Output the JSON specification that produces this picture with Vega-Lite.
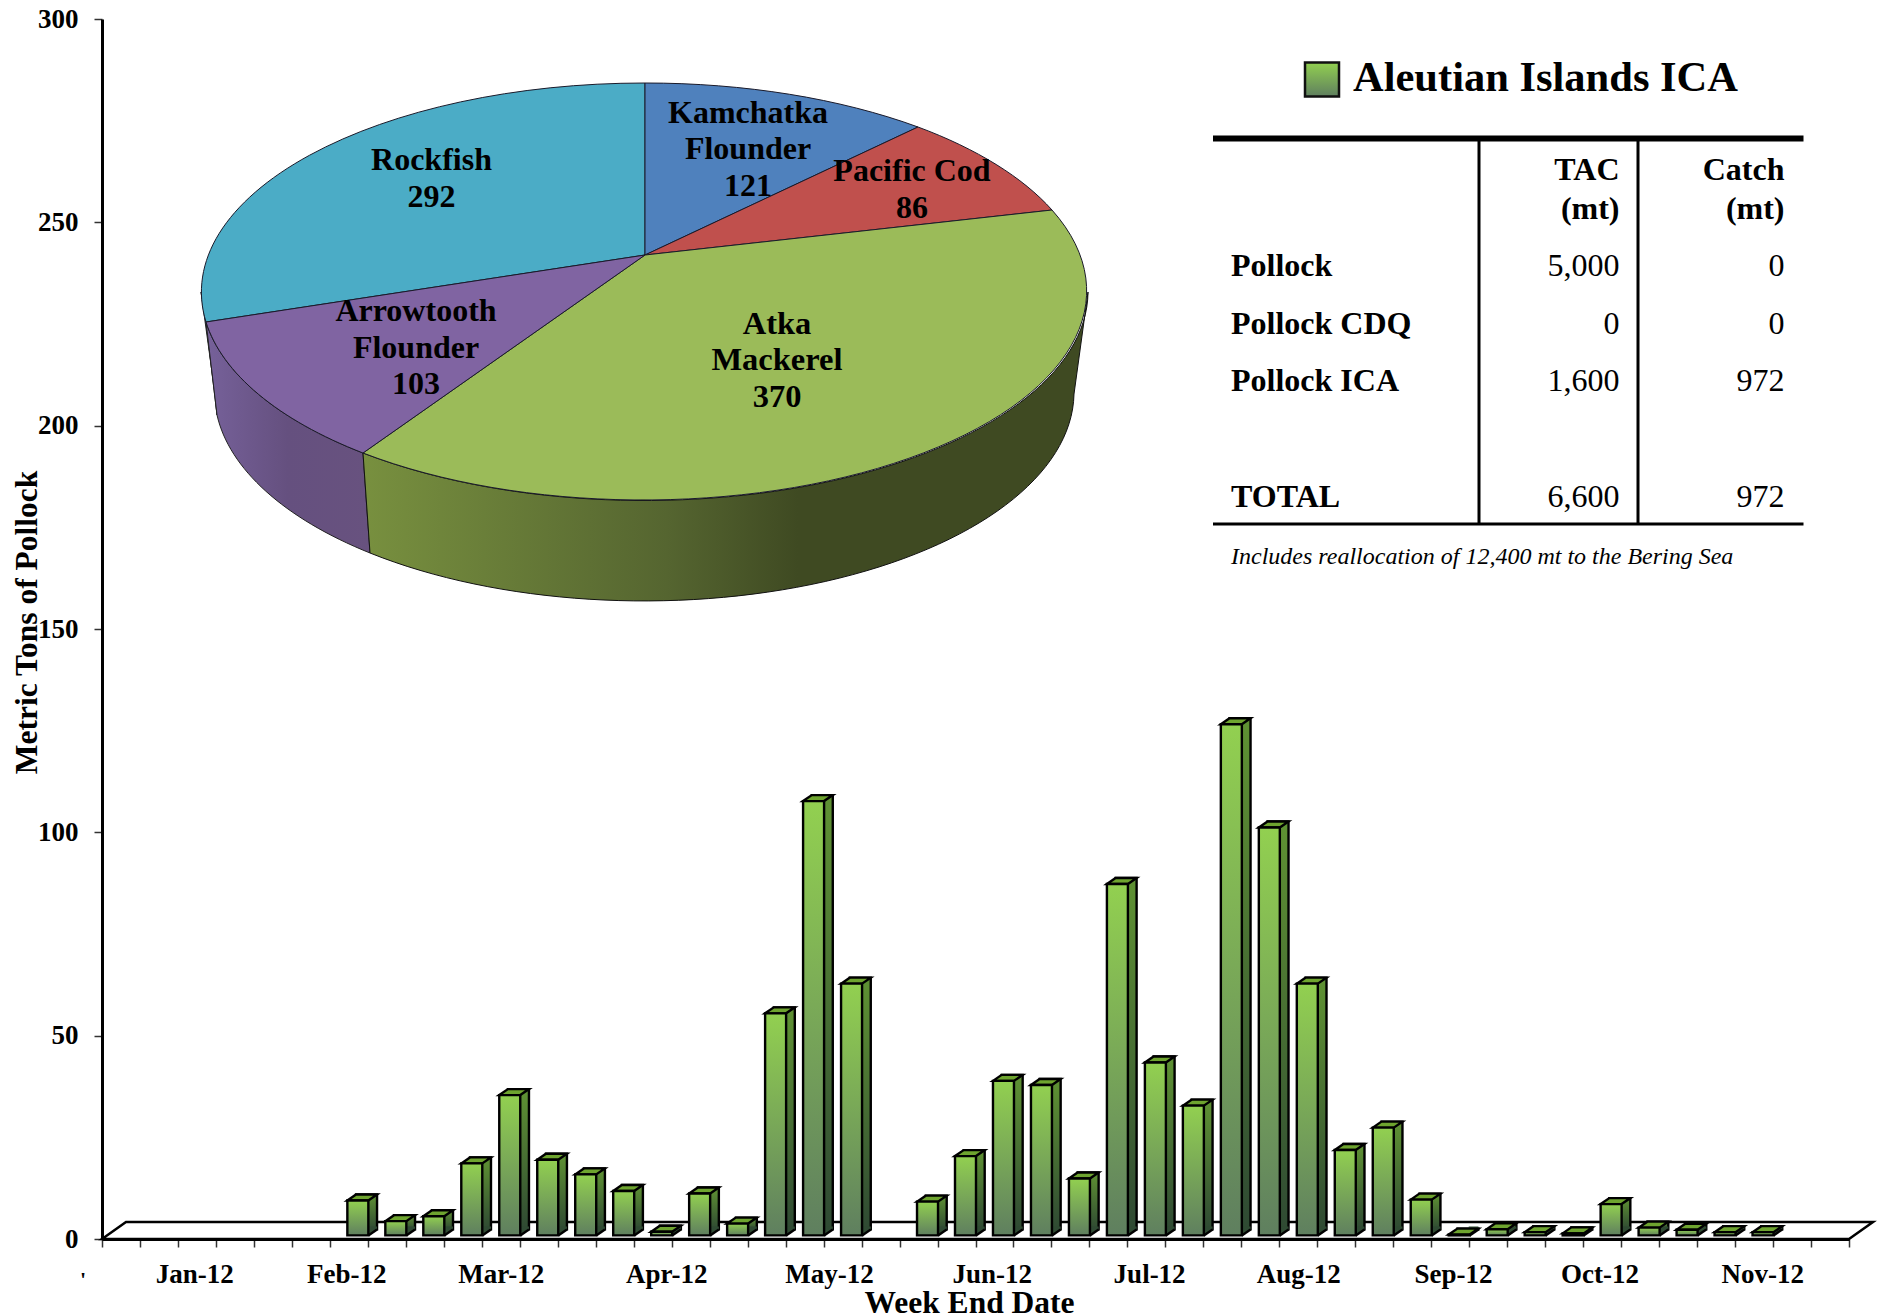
{
"$schema":"https://vega.github.io/schema/vega-lite/v6.json",
"width":1747,"height":1220,
"autosize":{"type":"none"},
"padding":{"left":102,"top":19,"right":30,"bottom":77},
"background":"white",
"config":{"view":{"stroke":null},"font":"Liberation Serif"},
"datasets":{
"pie":[
{"species":"Rockfish","tons":292,"label":"Rockfish|292"},
{"species":"Kamchatka Flounder","tons":121,"label":"Kamchatka|Flounder|121"},
{"species":"Pacific Cod","tons":86,"label":"Pacific Cod|86"},
{"species":"Atka Mackerel","tons":370,"label":"Atka|Mackerel|370"},
{"species":"Arrowtooth Flounder","tons":103,"label":"Arrowtooth|Flounder|103"}
],
"weeks":[
{"week":"2012-02-18","tons":8.6},{"week":"2012-02-25","tons":3.5},{"week":"2012-03-03","tons":4.7},{"week":"2012-03-10","tons":17.7},
{"week":"2012-03-17","tons":34.5},{"week":"2012-03-24","tons":18.6},{"week":"2012-03-31","tons":15},{"week":"2012-04-07","tons":10.9},
{"week":"2012-04-14","tons":0.9},{"week":"2012-04-21","tons":10.3},{"week":"2012-04-28","tons":2.9},{"week":"2012-05-05","tons":54.6},
{"week":"2012-05-12","tons":106.8},{"week":"2012-05-19","tons":61.9},{"week":"2012-06-02","tons":8.3},{"week":"2012-06-09","tons":19.5},
{"week":"2012-06-16","tons":38},{"week":"2012-06-23","tons":37},{"week":"2012-06-30","tons":14},{"week":"2012-07-07","tons":86.4},
{"week":"2012-07-14","tons":42.5},{"week":"2012-07-21","tons":31.9},{"week":"2012-07-28","tons":125.7},{"week":"2012-08-04","tons":100.3},
{"week":"2012-08-11","tons":61.9},{"week":"2012-08-18","tons":21},{"week":"2012-08-25","tons":26.5},{"week":"2012-09-01","tons":8.8},
{"week":"2012-09-08","tons":0.2},{"week":"2012-09-15","tons":1.5},{"week":"2012-09-22","tons":0.8},{"week":"2012-09-29","tons":0.5},
{"week":"2012-10-06","tons":7.7},{"week":"2012-10-13","tons":1.9},{"week":"2012-10-20","tons":1.4},{"week":"2012-10-27","tons":0.8},
{"week":"2012-11-03","tons":0.8}
],
"table":[
{"item":"header","tac":"TAC|(mt)","catch":"Catch|(mt)"},
{"item":"Pollock","tac":"5,000","catch":"0"},
{"item":"Pollock CDQ","tac":"0","catch":"0"},
{"item":"Pollock ICA","tac":"1,600","catch":"972"},
{"item":"TOTAL","tac":"6,600","catch":"972"}
]
},
"resolve":{"scale":{"x":"independent","y":"independent"}},
"layer":[
{
"data":{"name":"pie"},
"layer":[
{"transform":[{"filter":"datum.species==='Rockfish'"}],
 "mark":{"type":"point","filled":true,"opacity":1,"size":4,"shape":"M-444,37 L-439,67 L-428,160 L-430,139 Z","fill":"#2f7f93","stroke":"#222","strokeWidth":1},
 "encoding":{"x":{"datum":645,"axis":null,"scale":{"domain":[102,1849],"nice":false,"zero":false}},"y":{"datum":255,"axis":null,"scale":{"domain":[1239,19],"nice":false,"zero":false}}}},
{"transform":[{"filter":"datum.species==='Arrowtooth Flounder'"}],
 "mark":{"type":"point","filled":true,"opacity":1,"size":4,"shape":"M-439,67 A443.5,209 0 0 0 -282,198 L-275,298 A430,209 0 0 1 -428,160 Z","stroke":"#222","strokeWidth":1,
 "fill":{"gradient":"linear","x1":0,"y1":0,"x2":1,"y2":0,"stops":[{"offset":0,"color":"#76619a"},{"offset":0.5,"color":"#65507f"},{"offset":1,"color":"#68527f"}]}},
 "encoding":{"x":{"datum":645,"axis":null},"y":{"datum":255,"axis":null}}},
{"transform":[{"filter":"datum.species==='Atka Mackerel'"}],
 "mark":{"type":"point","filled":true,"opacity":1,"size":4,"shape":"M-282,198 A443.5,209 0 0 0 443,37 L429,139 A430,209 0 0 1 -275,298 Z","stroke":"#111","strokeWidth":1,
 "fill":{"gradient":"linear","x1":0,"y1":0,"x2":1,"y2":0,"stops":[{"offset":0,"color":"#78903f"},{"offset":0.42,"color":"#556530"},{"offset":0.6,"color":"#3f4a22"},{"offset":1,"color":"#3f4a22"}]}},
 "encoding":{"x":{"datum":645,"axis":null},"y":{"datum":255,"axis":null}}},
{"mark":{"type":"point","filled":true,"opacity":1,"size":4,"stroke":"#1a1a2a","strokeWidth":1},
 "encoding":{"x":{"datum":645,"axis":null},"y":{"datum":255,"axis":null},
 "shape":{"field":"species","type":"nominal","legend":null,"scale":{"domain":["Rockfish","Kamchatka Flounder","Pacific Cod","Atka Mackerel","Arrowtooth Flounder"],"range":["M0,0 L-439,67 A443.5,209 0 0 1 0,-172 Z","M0,0 L0,-172 A443.5,209 0 0 1 273,-128 Z","M0,0 L273,-128 A443.5,209 0 0 1 407,-45 Z","M0,0 L407,-45 A443.5,209 0 0 1 -282,198 Z","M0,0 L-282,198 A443.5,209 0 0 1 -439,67 Z"]}},
 "color":{"field":"species","type":"nominal","legend":null,"scale":{"domain":["Rockfish","Kamchatka Flounder","Pacific Cod","Atka Mackerel","Arrowtooth Flounder"],"range":["#4BACC6","#4F81BD","#C0504D","#9BBB59","#8064A2"]}}}},
{"transform":[{"filter":"datum.species==='Rockfish'"}],"mark":{"type":"text","fontWeight":"bold","fontSize":32,"lineBreak":"|","lineHeight":36.7,"baseline":"middle","color":"black"},
 "encoding":{"x":{"datum":431.5,"axis":null},"y":{"datum":160.4,"axis":null},"text":{"field":"label"}}},
{"transform":[{"filter":"datum.species==='Kamchatka Flounder'"}],"mark":{"type":"text","fontWeight":"bold","fontSize":32,"lineBreak":"|","lineHeight":36.7,"baseline":"middle","color":"black"},
 "encoding":{"x":{"datum":748,"axis":null},"y":{"datum":112.6,"axis":null},"text":{"field":"label"}}},
{"transform":[{"filter":"datum.species==='Pacific Cod'"}],"mark":{"type":"text","fontWeight":"bold","fontSize":32,"lineBreak":"|","lineHeight":36.7,"baseline":"middle","color":"black"},
 "encoding":{"x":{"datum":912,"axis":null},"y":{"datum":171.3,"axis":null},"text":{"field":"label"}}},
{"transform":[{"filter":"datum.species==='Atka Mackerel'"}],"mark":{"type":"text","fontWeight":"bold","fontSize":32.5,"lineBreak":"|","lineHeight":36.7,"baseline":"middle","color":"black"},
 "encoding":{"x":{"datum":777,"axis":null},"y":{"datum":323.5,"axis":null},"text":{"field":"label"}}},
{"transform":[{"filter":"datum.species==='Arrowtooth Flounder'"}],"mark":{"type":"text","fontWeight":"bold","fontSize":32,"lineBreak":"|","lineHeight":36.7,"baseline":"middle","color":"black"},
 "encoding":{"x":{"datum":416,"axis":null},"y":{"datum":311,"axis":null},"text":{"field":"label"}}}
]
},
{
"data":{"values":[{"element":"floor"}]},
"mark":{"type":"point","filled":true,"opacity":1,"size":4,"shape":"M0,0 L24,-17 L1771,-17 L1747,0 Z","fill":"white","stroke":"black","strokeWidth":2.5},
"encoding":{"x":{"datum":102,"axis":null,"scale":{"domain":[102,1849],"nice":false,"zero":false}},"y":{"datum":1239,"axis":null,"scale":{"domain":[1239,19],"nice":false,"zero":false}}}
},
{
"data":{"name":"weeks"},
"resolve":{"axis":{"x":"independent","y":"independent"}},
"layer":[
{"mark":{"type":"bar","size":21,"xOffset":-1.3,"yOffset":-9.6,"y2Offset":-9.6,"stroke":"black","strokeWidth":2.4,
 "fill":{"gradient":"linear","x1":0,"y1":0,"x2":0,"y2":1,"stops":[{"offset":0,"color":"#5f9233"},{"offset":1,"color":"#2f4a33"}]}},
 "encoding":{
 "x":{"field":"week","type":"temporal","scale":{"type":"utc","domain":["2011-12-31","2012-11-17"],"nice":false,"padding":0},
  "axis":{"orient":"bottom","title":null,"labels":false,"domain":true,"domainColor":"black","domainWidth":3,"tickSize":8,"tickColor":"#333","tickWidth":1.5,"grid":false,
  "values":["2011-12-31","2012-01-07","2012-01-14","2012-01-21","2012-01-28","2012-02-04","2012-02-11","2012-02-18","2012-02-25","2012-03-03","2012-03-10","2012-03-17","2012-03-24","2012-03-31","2012-04-07","2012-04-14","2012-04-21","2012-04-28","2012-05-05","2012-05-12","2012-05-19","2012-05-26","2012-06-02","2012-06-09","2012-06-16","2012-06-23","2012-06-30","2012-07-07","2012-07-14","2012-07-21","2012-07-28","2012-08-04","2012-08-11","2012-08-18","2012-08-25","2012-09-01","2012-09-08","2012-09-15","2012-09-22","2012-09-29","2012-10-06","2012-10-13","2012-10-20","2012-10-27","2012-11-03","2012-11-10","2012-11-17"]}},
 "y":{"field":"tons","type":"quantitative","stack":null,"scale":{"domain":[0,300],"nice":false,"zero":true},
  "axis":{"orient":"left","title":"Metric Tons of Pollock","titleFontSize":31.5,"titleFontWeight":"bold","titleColor":"black","titleX":-59,"titleY":603,"values":[0,50,100,150,200,250,300],"grid":false,"domainColor":"black","domainWidth":3,"tickColor":"#333","tickSize":8,"tickWidth":1.5,"labelFontSize":27,"labelFontWeight":"bold","labelColor":"black","labelPadding":16}},
 "y2":{"datum":0}}},
{"mark":{"type":"point","filled":true,"opacity":1,"size":4,"yOffset":-3.6,"shape":"M-0.5,0 L9.2,-6 L9.2,-9 L-0.5,-9 Z","fill":"#2f4a33"},
 "encoding":{"x":{"field":"week","type":"temporal","axis":{"orient":"bottom","title":"Week End Date","titleFontSize":31.5,"titleFontWeight":"bold","titleColor":"black","titleX":867,"titleY":48,"domain":false,"ticks":false,"grid":false,"labelFontSize":27,"labelFontWeight":"bold","labelColor":"black","labelPadding":22,"labelOverlap":false,"labelBound":false,"labelFlush":false,"format":"%b-%y",
  "values":["2012-01-17","2012-02-14","2012-03-13T12:00:00Z","2012-04-13","2012-05-13","2012-06-12","2012-07-11","2012-08-07T12:00:00Z","2012-09-05","2012-10-02","2012-11-01"]}},
 "y":{"datum":0,"axis":null}}},
{"mark":{"type":"point","filled":false,"opacity":1,"size":4,"yOffset":-3.6,"shape":"M0.5,0 L9.2,-6","stroke":"black","strokeWidth":2.4,"fill":null},
 "encoding":{"x":{"field":"week","type":"temporal","axis":null},"y":{"datum":0,"axis":null}}},
{"mark":{"type":"point","filled":true,"opacity":1,"size":4,"yOffset":-3.6,"xOffset":0,"shape":"M-20.5,0 L-11.8,-6 L9.2,-6 L0.5,0 Z","fill":"#6ea42f","stroke":"black","strokeWidth":2.4},
 "encoding":{"x":{"field":"week","type":"temporal","axis":null},"y":{"field":"tons","type":"quantitative","axis":null}}},
{"mark":{"type":"bar","size":21,"xOffset":-10,"yOffset":-3.6,"y2Offset":-3.6,"stroke":"black","strokeWidth":2.4,
 "fill":{"gradient":"linear","x1":0,"y1":0,"x2":0,"y2":1,"stops":[{"offset":0,"color":"#92d050"},{"offset":1,"color":"#5f7f5f"}]}},
 "encoding":{"x":{"field":"week","type":"temporal","axis":null},"y":{"field":"tons","type":"quantitative","stack":null,"axis":null},"y2":{"datum":0}}}
]
},
{
"data":{"values":[{"element":"frame"}]},
"layer":[
{"mark":{"type":"rule","color":"black","strokeWidth":6},"encoding":{"x":{"datum":1213,"axis":null,"scale":{"domain":[102,1849],"nice":false,"zero":false}},"x2":{"datum":1803.5},"y":{"datum":138.5,"axis":null,"scale":{"domain":[1239,19],"nice":false,"zero":false}}}},
{"mark":{"type":"rule","color":"black","strokeWidth":3},"encoding":{"x":{"datum":1213,"axis":null},"x2":{"datum":1803.5},"y":{"datum":524,"axis":null}}},
{"mark":{"type":"rule","color":"black","strokeWidth":3},"encoding":{"x":{"datum":1479,"axis":null},"y":{"datum":138,"axis":null},"y2":{"datum":524}}},
{"mark":{"type":"rule","color":"black","strokeWidth":3},"encoding":{"x":{"datum":1638,"axis":null},"y":{"datum":138,"axis":null},"y2":{"datum":524}}},
{"mark":{"type":"point","shape":"square","filled":true,"opacity":1,"size":1156,"stroke":"#111","strokeWidth":2.5,"fill":{"gradient":"linear","x1":0,"y1":0,"x2":0,"y2":1,"stops":[{"offset":0,"color":"#92d050"},{"offset":1,"color":"#5f7f5f"}]}},
 "encoding":{"x":{"datum":1322,"axis":null},"y":{"datum":79.5,"axis":null}}},
{"mark":{"type":"text","text":"Aleutian Islands ICA","align":"left","baseline":"middle","fontSize":42.5,"fontWeight":"bold","color":"black"},"encoding":{"x":{"datum":1353,"axis":null},"y":{"datum":78,"axis":null}}},
{"mark":{"type":"text","text":"Includes reallocation of 12,400 mt to the Bering Sea","align":"left","baseline":"middle","fontSize":24,"fontStyle":"italic","color":"black"},"encoding":{"x":{"datum":1231,"axis":null},"y":{"datum":557,"axis":null}}},
{"mark":{"type":"text","text":"'","align":"center","baseline":"middle","fontSize":22,"fontWeight":"bold","color":"black"},"encoding":{"x":{"datum":83,"axis":null},"y":{"datum":1280,"axis":null}}}
]
},
{
"data":{"name":"table"},
"layer":[
{"transform":[{"filter":"datum.item!=='header'"}],"mark":{"type":"text","align":"left","baseline":"bottom","fontSize":32,"fontWeight":"bold","color":"black"},
 "encoding":{"x":{"datum":1231,"axis":null,"scale":{"domain":[102,1849],"nice":false,"zero":false}},"y":{"field":"item","type":"nominal","axis":null,"scale":{"type":"point","padding":0,"domain":["header","Pollock","Pollock CDQ","Pollock ICA","blank","TOTAL"],"range":[206,495]}},"text":{"field":"item"}}},
{"transform":[{"filter":"datum.item!=='header'"}],"mark":{"type":"text","align":"right","baseline":"bottom","fontSize":32,"color":"black"},
 "encoding":{"x":{"datum":1619.5,"axis":null},"y":{"field":"item","type":"nominal","axis":null},"text":{"field":"tac"}}},
{"transform":[{"filter":"datum.item!=='header'"}],"mark":{"type":"text","align":"right","baseline":"bottom","fontSize":32,"color":"black"},
 "encoding":{"x":{"datum":1784.5,"axis":null},"y":{"field":"item","type":"nominal","axis":null},"text":{"field":"catch"}}},
{"transform":[{"filter":"datum.item==='header'"}],"mark":{"type":"text","align":"right","baseline":"bottom","dy":-38,"fontSize":32,"fontWeight":"bold","color":"black","lineBreak":"|","lineHeight":38.6},
 "encoding":{"x":{"datum":1619.5,"axis":null},"y":{"field":"item","type":"nominal","axis":null},"text":{"field":"tac"}}},
{"transform":[{"filter":"datum.item==='header'"}],"mark":{"type":"text","align":"right","baseline":"bottom","dy":-38,"fontSize":32,"fontWeight":"bold","color":"black","lineBreak":"|","lineHeight":38.6},
 "encoding":{"x":{"datum":1784.5,"axis":null},"y":{"field":"item","type":"nominal","axis":null},"text":{"field":"catch"}}}
]
}
]
}
